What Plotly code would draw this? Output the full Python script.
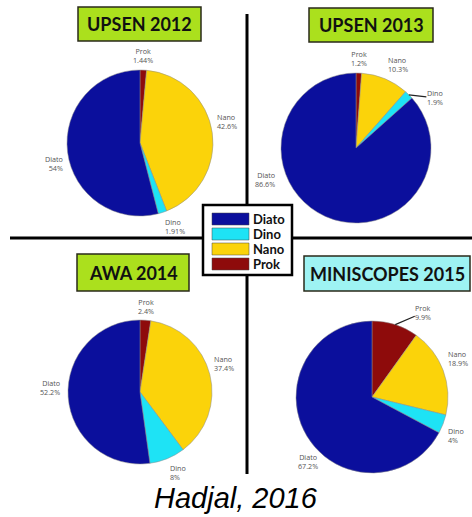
import math
import plotly.graph_objects as go

W, H = 472, 517

categories = ["Prok", "Nano", "Dino", "Diato"]
colors = ["#8e0b0b", "#fbd30a", "#1ee3f5", "#0b0f9c"]

titles = ["UPSEN 2012", "UPSEN 2013", "AWA 2014", "MINISCOPES 2015"]
upsen_2012 = [1.44, 42.6, 1.91, 54]
upsen_2013 = [1.2, 10.3, 1.9, 86.6]
awa_2014 = [2.4, 37.4, 8, 52.2]
miniscopes_2015 = [9.9, 18.9, 4, 67.2]
series = [upsen_2012, upsen_2013, awa_2014, miniscopes_2015]

legend_order = ["Diato", "Dino", "Nano", "Prok"]

# pie centres / radius in pixels
pies = [(140, 143, 73), (356, 148, 75), (140, 392, 72), (372, 397, 76)]
# title boxes (x0, y0, x1, y1) in pixels, fill colour
boxes = [((78, 7, 201, 41), "#abe01d"),
         ((309, 8, 433, 42), "#abe01d"),
         ((77, 254, 189, 291), "#abe01d"),
         ((304, 256, 470, 291), "#9ef3f3")]
# labels that are pulled away with a leader line: (pie, label) -> text offset px
leaders = {(1, "Dino"): (26, 3), (3, "Prok"): (28, -12)}
# labels moved by hand in the original: (pie, label) -> (angle deg, xanchor)
moved = {(1, "Diato"): (255, None), (2, "Diato"): (273, None),
         (3, "Diato"): (230, "center")}


def px(x):
    return x / W


def py(y):
    return 1 - y / H


fig = go.Figure()
annotations = []
lab_font = dict(size=7.2, color="#555555", family="Open Sans")

for k, ((cx, cy, r), vals) in enumerate(zip(pies, series)):
    fig.add_trace(go.Pie(
        labels=categories,
        values=vals,
        textinfo="none",
        marker=dict(colors=colors, line=dict(color="#8a8a8a", width=0.5)),
        sort=False,
        direction="clockwise",
        rotation=0,
        showlegend=False,
        hoverinfo="label+percent",
        domain=dict(x=[px(cx - r), px(cx + r)], y=[py(cy + r), py(cy - r)]),
    ))
    # slice labels, matlab style: just outside the rim at the mid angle
    total = sum(vals)
    acc = 0
    for lab, v in zip(categories, vals):
        mid = (acc + v / 2) / total * 2 * math.pi
        acc += v
        txt = f"{lab}<br>{v:g}%"
        if (k, lab) in leaders:
            ax, ay = leaders[(k, lab)]
            annotations.append(dict(
                x=px(cx + r * math.sin(mid)), y=py(cy - r * math.cos(mid)),
                xref="paper", yref="paper",
                text=txt, showarrow=True, arrowhead=0, arrowwidth=1.2,
                arrowcolor="#222222", ax=ax, ay=ay, standoff=0,
                font=lab_font, align="left", borderpad=0))
            continue
        xa = None
        d = 1.05 * r
        if (k, lab) in moved:
            ang, xa = moved[(k, lab)]
            mid = math.radians(ang)
            d = 1.1 * r
        s, c = math.sin(mid), math.cos(mid)
        if xa is None:
            xa = "left" if s > 0.1 else ("right" if s < -0.1 else "center")
        ya = "bottom" if c > 0.1 else ("top" if c < -0.1 else "middle")
        annotations.append(dict(
            x=px(cx + d * s), y=py(cy - d * c), xref="paper", yref="paper",
            text=txt, showarrow=False, xanchor=xa, yanchor=ya, borderpad=0,
            align="center" if xa == "center" else xa, font=lab_font))

shapes = []
# dividing cross
shapes.append(dict(type="line", xref="paper", yref="paper",
                   x0=px(247), x1=px(247), y0=py(14), y1=py(474),
                   line=dict(color="black", width=3)))
shapes.append(dict(type="line", xref="paper", yref="paper",
                   x0=px(10), x1=px(472), y0=py(238), y1=py(238),
                   line=dict(color="black", width=3)))

for ((x0, y0, x1, y1), fill), t in zip(boxes, titles):
    shapes.append(dict(type="rect", xref="paper", yref="paper",
                       x0=px(x0), x1=px(x1), y0=py(y1), y1=py(y0),
                       fillcolor=fill, line=dict(color="#2a2a1a", width=1.5)))
    annotations.append(dict(x=px((x0 + x1) / 2), y=py((y0 + y1) / 2),
                            xref="paper", yref="paper", text=f"<b>{t}</b>",
                            showarrow=False, xanchor="center", yanchor="middle",
                            font=dict(size=18, color="#111111", family="Lato")))

# legend box
shapes.append(dict(type="rect", xref="paper", yref="paper",
                   x0=px(203), x1=px(292), y0=py(275), y1=py(205),
                   fillcolor="white", line=dict(color="black", width=2.5)))
for i, name in enumerate(legend_order):
    yc = 219 + i * 15
    col = colors[categories.index(name)]
    shapes.append(dict(type="rect", xref="paper", yref="paper",
                       x0=px(212), x1=px(249), y0=py(yc + 6), y1=py(yc - 6),
                       fillcolor=col, line=dict(color="#444", width=0.5)))
    annotations.append(dict(x=px(251), y=py(yc), xref="paper", yref="paper",
                            text=f"<b>{name}</b>", showarrow=False,
                            xanchor="left", yanchor="middle",
                            font=dict(size=13, color="#111111", family="Lato")))

annotations.append(dict(x=px(236), y=py(498), xref="paper", yref="paper",
                        text="<i>Hadjal, 2016</i>", showarrow=False,
                        xanchor="center", yanchor="middle",
                        font=dict(size=29, color="black", family="Liberation Sans")))

fig.update_layout(
    width=W, height=H,
    margin=dict(l=0, r=0, t=0, b=0),
    paper_bgcolor="white", plot_bgcolor="white",
    shapes=shapes, annotations=annotations,
)

# drop the browser's default body margin so the figure fills the window
fig.write_html("out.html", config={"displayModeBar": False},
               post_script="document.body.style.margin='0';")
